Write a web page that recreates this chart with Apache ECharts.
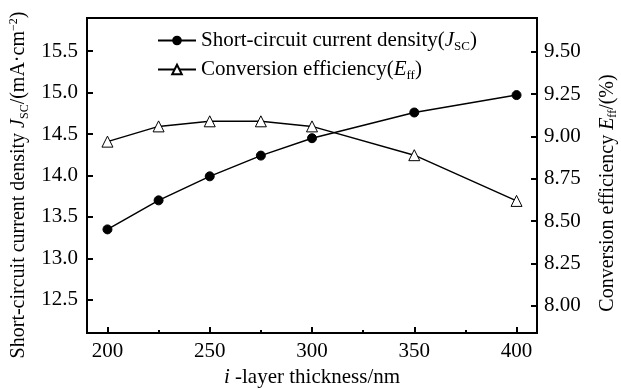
<!DOCTYPE html>
<html>
<head>
<meta charset="utf-8">
<script src="https://cdn.jsdelivr.net/npm/echarts@6/dist/echarts.min.js"></script>
<style>
  html, body { margin: 0; padding: 0; background: #fff; }
  #chart { width: 621px; height: 389px; }
</style>
</head>
<body>
<div id="chart"></div>
<script>
// data
var thickness = [200, 225, 250, 275, 300, 350, 400];
var jscValues = [13.35, 13.70, 13.99, 14.24, 14.45, 14.76, 14.97];
var effValues = [8.97, 9.06, 9.09, 9.09, 9.06, 8.89, 8.62];
var xTickLabels = [200, 250, 300, 350, 400];
var xMinorTicks = [225, 275, 325, 375];
var leftTickLabels = [12.5, 13.0, 13.5, 14.0, 14.5, 15.0, 15.5];
var rightTickLabels = [8.00, 8.25, 8.50, 8.75, 9.00, 9.25, 9.50];

var serif = "'Liberation Serif', 'Times New Roman', serif";

function richFor(size) {
    return {
        i: { fontFamily: serif, fontStyle: 'italic', fontSize: size, color: '#000' },
        sub: { fontFamily: serif, fontSize: Math.round(size * 0.62), color: '#000', padding: [Math.round(size * 0.55), 0, 0, 0] },
        sup: { fontFamily: serif, fontSize: Math.round(size * 0.62), color: '#000', padding: [0, 0, Math.round(size * 0.5), 0] }
    };
}

function pairs(xs, ys) {
    return xs.map(function (e, i) {
        return [e, ys[i]];
    });
}

function drawChart() {
    var myChart = echarts.init(document.getElementById('chart'));

    var option = {
        animation: false,
        textStyle: { fontFamily: serif, color: '#000' },
        grid: {
            left: 87, right: 84, top: 18, bottom: 56,
            show: true, borderColor: '#000', borderWidth: 2,
            containLabel: false,
            outerBoundsMode: 'none'
        },
        legend: {
            orient: 'vertical',
            left: 157,
            top: 30,
            padding: 0,
            itemWidth: 38,
            itemHeight: 12,
            itemGap: 6,
            textStyle: { fontFamily: serif, fontSize: 21, color: '#000', rich: richFor(21) },
            formatter: function (name) {
                if (name === 'jsc') return 'Short-circuit current density({i|J}{sub|SC})';
                return 'Conversion efficiency({i|E}{sub|ff})';
            },
            data: ['jsc', 'eff']
        },
        xAxis: [{
            type: 'value',
            min: 190,
            max: 410,
            name: '{i|i} -layer thickness/nm',
            nameLocation: 'middle',
            nameGap: 31,
            nameTextStyle: { fontFamily: serif, fontSize: 21, color: '#000', rich: richFor(21) },
            axisLine: { lineStyle: { color: '#000', width: 2 } },
            axisTick: { inside: true, length: 6, lineStyle: { color: '#000', width: 2 }, customValues: xTickLabels },
            axisLabel: { fontFamily: serif, fontSize: 21, color: '#000', margin: 8, customValues: xTickLabels },
            splitLine: { show: false }
        }, {
            type: 'value',
            position: 'bottom',
            min: 190,
            max: 410,
            axisLine: { show: false },
            axisTick: { inside: true, length: 3, lineStyle: { color: '#000', width: 2 }, customValues: xMinorTicks },
            axisLabel: { show: false },
            splitLine: { show: false }
        }],
        yAxis: [{
            type: 'value',
            min: 12.1,
            max: 15.9,
            position: 'left',
            name: 'Short-circuit current density {i|J}{sub|SC}/(mA·cm{sup|−2})',
            nameLocation: 'middle',
            nameRotate: 90,
            nameGap: 48,
            nameTextStyle: { fontFamily: serif, fontSize: 20, color: '#000', rich: richFor(20), padding: [0, 19, 0, 0] },
            axisLine: { show: true, lineStyle: { color: '#000', width: 2 } },
            axisTick: { show: true, inside: true, length: 6, lineStyle: { color: '#000', width: 2 }, customValues: leftTickLabels },
            axisLabel: {
                fontFamily: serif, fontSize: 21, color: '#000', margin: 9,
                customValues: leftTickLabels,
                formatter: function (v) { return v.toFixed(1); }
            },
            splitLine: { show: false }
        }, {
            type: 'value',
            min: 7.84,
            max: 9.70,
            position: 'right',
            name: 'Conversion efficiency {i|E}{sub|ff}/(%)',
            nameLocation: 'middle',
            nameRotate: 90,
            nameGap: 59,
            nameTextStyle: { fontFamily: serif, fontSize: 20, color: '#000', rich: richFor(20), padding: [0, 35, 0, 0] },
            axisLine: { show: true, lineStyle: { color: '#000', width: 2 } },
            axisTick: { show: true, inside: true, length: 6, lineStyle: { color: '#000', width: 2 }, customValues: rightTickLabels },
            axisLabel: {
                fontFamily: serif, fontSize: 21, color: '#000', margin: 7,
                customValues: rightTickLabels,
                formatter: function (v) { return v.toFixed(2); }
            },
            splitLine: { show: false }
        }],
        series: [{
            name: 'jsc',
            type: 'line',
            yAxisIndex: 0,
            symbol: 'circle',
            symbolSize: 9,
            itemStyle: { color: '#000', borderColor: '#000' },
            lineStyle: { color: '#000', width: 1.5 },
            data: pairs(thickness, jscValues)
        }, {
            name: 'eff',
            type: 'line',
            yAxisIndex: 1,
            symbol: 'triangle',
            symbolSize: 11,
            itemStyle: { color: '#fff', borderColor: '#000', borderWidth: 1 },
            lineStyle: { color: '#000', width: 1.5 },
            data: pairs(thickness, effValues)
        }]
    };

    myChart.setOption(option);
}

drawChart();
</script>
</body>
</html>
